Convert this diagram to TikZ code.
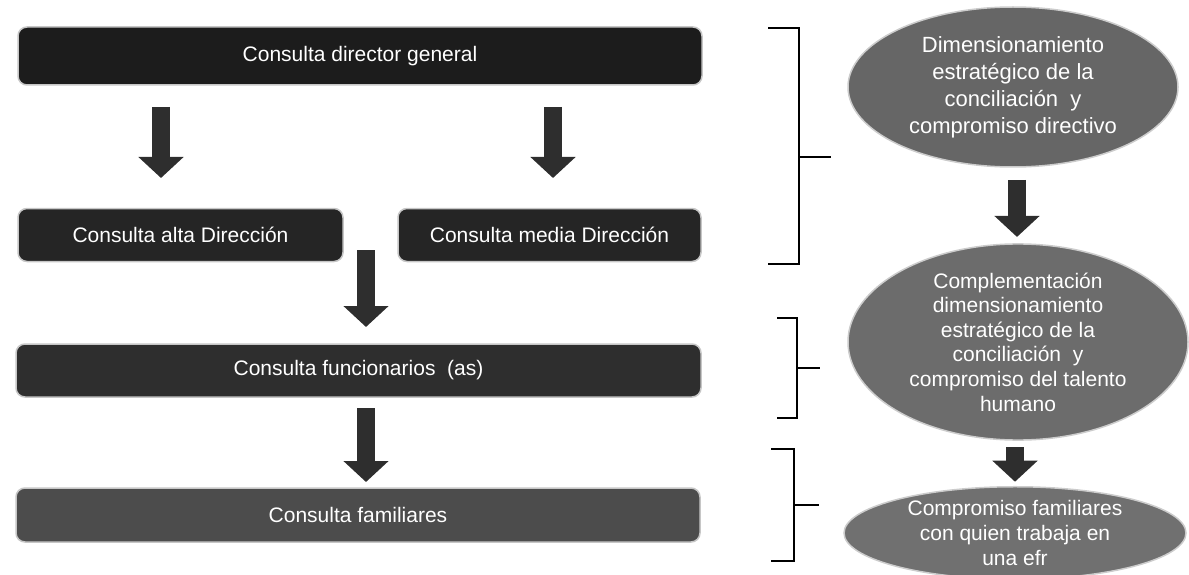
\documentclass[tikz,border=0pt]{standalone}
\usepackage{fontspec}
\setmainfont{Liberation Sans}
\usetikzlibrary{shapes.geometric,arrows.meta,calc}
\definecolor{boxA}{HTML}{1C1C1C}
\definecolor{boxB}{HTML}{252525}
\definecolor{boxC}{HTML}{2E2E2E}
\definecolor{boxD}{HTML}{4C4C4C}
\definecolor{ovalA}{HTML}{666666}
\definecolor{ovalB}{HTML}{6C6C6C}
\definecolor{ovalC}{HTML}{707070}
\definecolor{arrowgray}{HTML}{2E2E2E}
\begin{document}
\begin{tikzpicture}[x=1pt,y=-1pt,
  box/.style={draw=gray!45, line width=1.5pt, rounded corners=9pt, text=white,
    minimum height=53pt, inner sep=0pt, outer sep=0pt,
    font=\fontsize{21}{25}\selectfont},
  oval/.style={ellipse, draw=gray!40, line width=1.5pt, text=white, inner sep=0pt,
    outer sep=0pt, align=center},
  barrow/.style={line width=18pt, draw=arrowgray,
    -{Triangle[width=44pt,length=21pt]}},
  brk/.style={line width=1.6pt, draw=black}]
\useasboundingbox (0,0) rectangle (1189,575);

% boxes
\node[box, fill=boxA, minimum width=684pt, minimum height=58pt] (b1) at (360,56) {Consulta director general};
\node[box, fill=boxB, minimum width=325pt] (b2) at (180.5,235) {Consulta alta Dirección};
\node[box, fill=boxB, minimum width=303pt] (b3) at (549.5,235) {Consulta media Dirección};
\node[box, fill=boxC, minimum width=685pt] (b4) at (358.5,370.5) {Consulta funcionarios\ \ (as)};
\node[box, fill=boxD, minimum width=684pt, minimum height=54pt] (b5) at (358,515) {Consulta familiares};

% ellipses
\node[oval, fill=ovalA, minimum width=330pt, minimum height=160pt,
  font=\fontsize{22}{27}\selectfont] (e1) at (1013,87)
  {Dimensionamiento\\estratégico de la\\conciliación\ \ y\\compromiso directivo};
\node[oval, fill=ovalB, minimum width=340pt, minimum height=166pt,
  font=\fontsize{21}{24.6}\selectfont] (e2) at (1018,342)
  {Complementación\\dimensionamiento\\estratégico de la\\conciliación\ \ y\\compromiso del talento\\humano};
\node[oval, fill=ovalC, minimum width=342pt, minimum height=86pt,
  font=\fontsize{21}{25}\selectfont] (e3) at (1015,533)
  {Compromiso familiares\\con quien trabaja en\\una efr};

% block arrows
\draw[barrow] ($(b1.south -| b2.north)+(-19.5,22)$) -- ($(b2.north)+(-19.5,-30.5)$);
\draw[barrow] ($(b1.south -| b3.north)+(3.5,22)$) -- ($(b3.north)+(3.5,-30.5)$);
\draw[barrow] ($(b4.north)+(7.5,-94)$) -- ($(b4.north)+(7.5,-17)$);
\draw[barrow] ($(b4.south)+(7.5,11)$) -- ($(b5.north)+(8,-6)$);
\draw[barrow] ($(e1.south)+(4,13)$) -- ($(e2.north)+(-1,-7)$);
\draw[barrow] ($(e2.south)+(-3,7)$) -- ($(e3.north)+(0,-5)$);

% brackets
\draw[brk] (768,28) -- (799,28) -- (799,264) -- (768,264);
\draw[brk] (799,157) -- (831,157);
\draw[brk] (777,318) -- (797,318) -- (797,418) -- (777,418);
\draw[brk] (797,368) -- (820,368);
\draw[brk] (771,449) -- (794,449) -- (794,561) -- (771,561);
\draw[brk] (794,505) -- (819,505);
\end{tikzpicture}
\end{document}
